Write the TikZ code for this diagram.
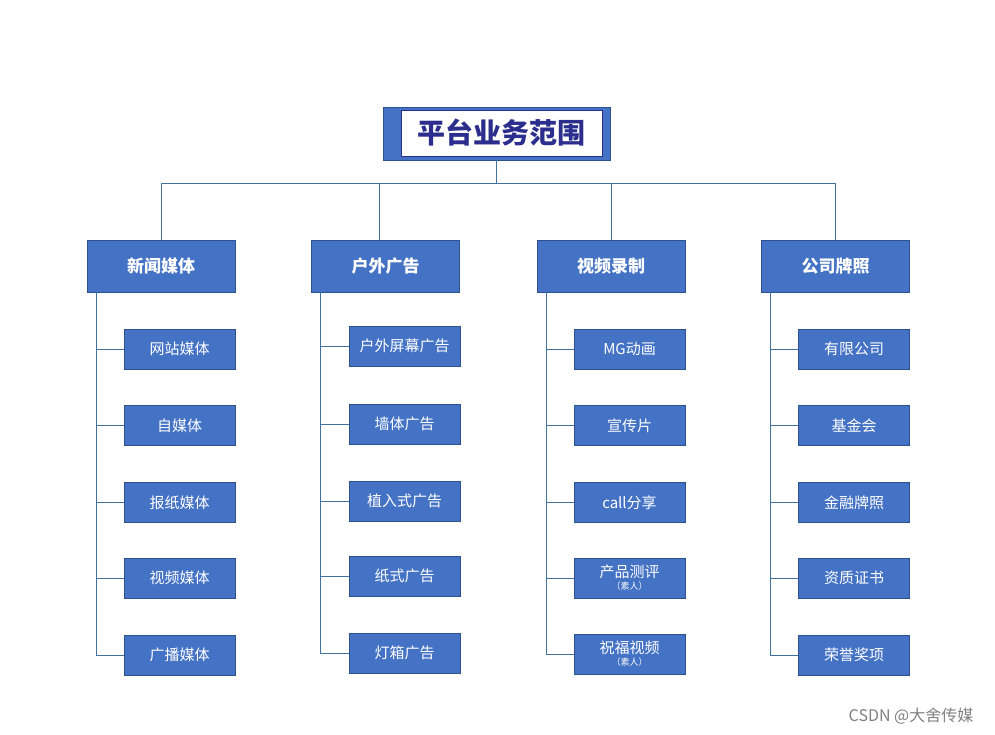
\documentclass[tikz,border=0pt]{standalone}
\usepackage{fontspec}
\setmainfont{Noto Sans CJK SC}
\usepackage{tikz}

\definecolor{boxblue}{HTML}{4472C4}
\definecolor{boxedge}{HTML}{2F528F}
\definecolor{linkblue}{HTML}{41719C}
\definecolor{titlenavy}{HTML}{2B2E8C}

\begin{document}
\begin{tikzpicture}[x=1pt, y=-1pt,
    head/.style = {draw=boxedge, fill=boxblue, text=white, minimum width=148pt,
                   minimum height=52pt, font=\fontsize{17}{19}\selectfont\bfseries},
    item/.style = {draw=boxedge, fill=boxblue, text=white, minimum width=111pt,
                   minimum height=40pt, font=\fontsize{15}{17}\selectfont, align=center},
    link/.style = {draw=linkblue, line width=0.8pt}]
    \useasboundingbox (0,0) rectangle (995,734);

    % title
    \node[draw=boxedge, fill=boxblue, minimum width=227pt, minimum height=53pt] (top) at (496.5,133.5) {};
    \node[draw=titlenavy, fill=white, minimum width=201pt, minimum height=46pt,
          text=titlenavy, font=\fontsize{28}{30}\selectfont\bfseries] (title) at (501.5,133) {平台业务范围};

    % headers
    \node[head] (news) at (161,266) {新闻媒体};
    \node[head] (outdoor) at (385.5,266) {户外广告};
    \node[head] (video) at (611,266) {视频录制};
    \node[head] (license) at (835.5,266) {公司牌照};

    \coordinate (bus) at (496.5,183);
    \draw[link] (top.south) -- (bus);
    \draw[link] (bus) -| (news.north);
    \draw[link] (bus) -| ([xshift=-6.5pt]outdoor.north);
    \draw[link] (bus) -| (video.north);
    \draw[link] (bus) -| (license.north);

    % children
    \foreach \x/\y [count = \xi] in {网站媒体/349, 自媒体/425.5, 报纸媒体/502.5, 视频媒体/578, 广播媒体/655}
        \node[item] (news\xi) at (179.5,\y) {\x};
    \foreach \x/\y [count = \xi] in {户外屏幕广告/346, 墙体广告/424, 植入式广告/501, 纸式广告/576, 灯箱广告/653}
        \node[item] (outdoor\xi) at (404.5,\y) {\x};
    \node[item] (video1) at (629.5,349) {MG动画};
    \node[item] (video2) at (629.5,425.5) {宣传片};
    \node[item] (video3) at (629.5,502.5) {call分享};
    \node[item] (video4) at (629.5,578) {产品测评\\[-5pt]{\fontsize{9}{10}\selectfont （素人）}};
    \node[item] (video5) at (629.5,654) {祝福视频\\[-5pt]{\fontsize{9}{10}\selectfont （素人）}};
    \foreach \x/\y [count = \xi] in {有限公司/349, 基金会/425.5, 金融牌照/502.5, 资质证书/578, 荣誉奖项/655}
        \node[item] (license\xi) at (854,\y) {\x};

    \foreach \h in {news, outdoor, video, license}
        \foreach \i in {1,...,5}
            \draw[link] ([xshift=9.5pt]\h.south west) |- (\h\i.west);

    % watermark
    \node[text=gray, font=\fontsize{16}{18}\selectfont] (mark) at (911,716) {CSDN @大舍传媒};
\end{tikzpicture}
\end{document}
